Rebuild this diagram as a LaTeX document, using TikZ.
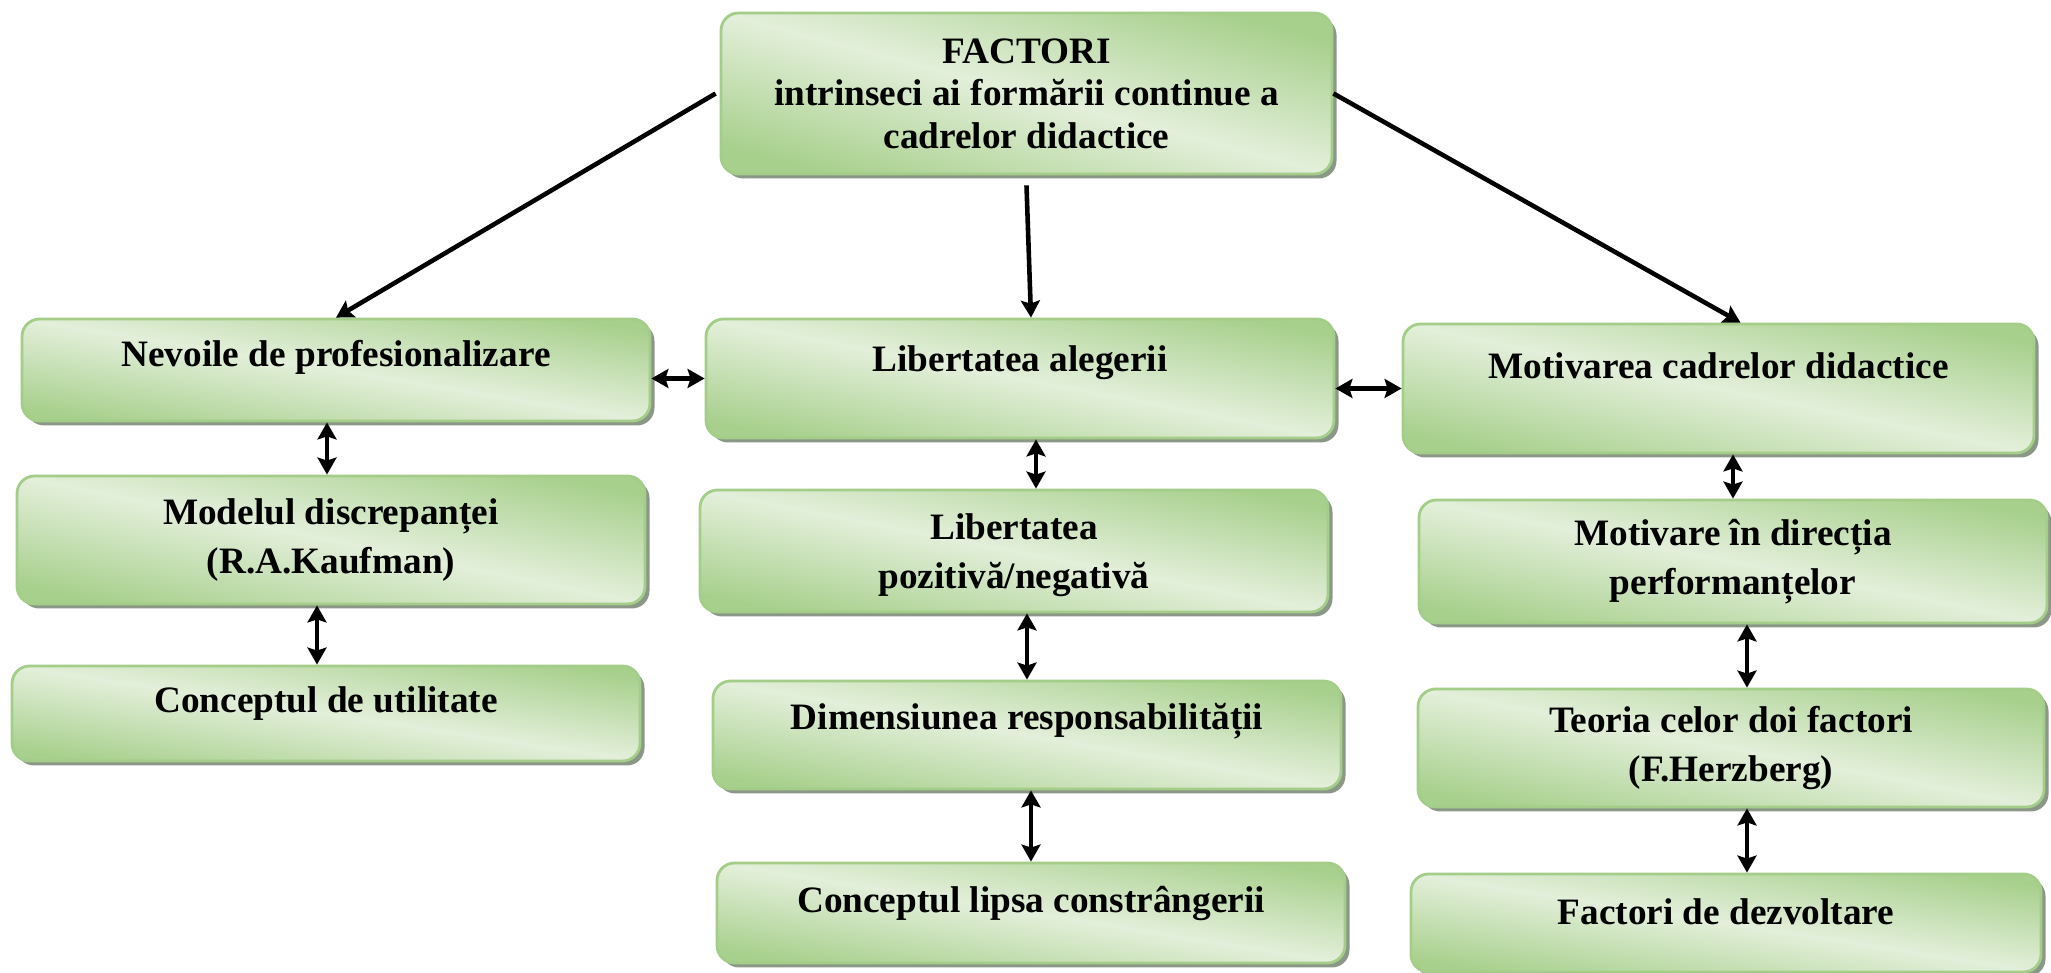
\documentclass[tikz,border=0pt]{standalone}
\usepackage{fontspec}
\setmainfont{Liberation Serif}
\usetikzlibrary{arrows.meta, positioning, calc, shadows}
\definecolor{leafdark}{HTML}{A8D08D}
\definecolor{leaflight}{HTML}{E3EFDA}
\definecolor{leafline}{HTML}{A3CD88}
\definecolor{leafshade}{HTML}{8C9887}
\newcommand{\factorbox}[7]{%
  \pgfmathsetmacro\leafangle{-atan(#5/#4)}%
  \node[draw=leafline, line width=0.8pt, rounded corners=5pt,
        top color=leafdark, bottom color=leafdark, middle color=leaflight,
        shading angle=\leafangle,
        drop shadow={shadow xshift=0.045cm, shadow yshift=-0.045cm,
                     fill=leafshade, opacity=1},
        minimum width=#4cm, minimum height=#5cm] (#1) at (#2,#3) {};
  \node[align=center, font=\bfseries\fontsize{10.6}{14}\selectfont]
        (#1-t) at ([yshift=#6cm]#1.center) {#7};}
\tikzset{
  oneway/.style={-{Stealth[length=1.7mm, width=1.9mm, inset=0.3mm]}, line width=1.3pt},
  twoway/.style={{Stealth[length=1.7mm, width=1.9mm, inset=0.3mm]}-{Stealth[length=1.7mm, width=1.9mm, inset=0.3mm]}, line width=1.3pt}
}
\begin{document}
\begin{tikzpicture}
  \useasboundingbox (0,0) rectangle (20.51,9.73);
  \factorbox{top}{10.265}{8.795}{6.11}{1.61}{0}{FACTORI\\[-1.9pt]
    intrinseci ai formării continue a\\[-1.9pt] cadrelor didactice}
  \factorbox{nev}{3.36}{6.03}{6.28}{1.02}{0.13}{Nevoile de profesionalizare}
  \factorbox{lib}{10.20}{5.945}{6.28}{1.19}{0.16}{Libertatea alegerii}
  \factorbox{mot}{17.185}{5.845}{6.31}{1.29}{0.23}{Motivarea cadrelor didactice}
  \factorbox{mod}{3.31}{4.33}{6.28}{1.28}{0}{Modelul discrepanței\\(R.A.Kaufman)}
  \factorbox{poz}{10.14}{4.22}{6.28}{1.22}{-0.04}{Libertatea\\pozitivă/negativă}
  \factorbox{dir}{17.33}{4.115}{6.28}{1.23}{0}{Motivare în direcția\\performanțelor}
  \factorbox{util}{3.26}{2.595}{6.28}{0.95}{0.10}{Conceptul de utilitate}
  \factorbox{dim}{10.27}{2.38}{6.28}{1.08}{0.14}{Dimensiunea responsabilității}
  \factorbox{teo}{17.31}{2.25}{6.26}{1.18}{0}{Teoria celor doi factori\\(F.Herzberg)}
  \factorbox{lip}{10.31}{0.60}{6.28}{1.00}{0.10}{Conceptul lipsa constrângerii}
  \factorbox{fac}{17.26}{0.50}{6.30}{0.98}{0.11}{Factori de dezvoltare}

  % from the top box
  \draw[oneway] ([xshift=-0.04cm]top.west) -- (nev.north);
  \draw[oneway] ([yshift=-0.1cm]top.south) -- ([xshift=0.11cm]lib.north);
  \draw[oneway] (top.east) -- ([xshift=0.22cm]mot.north);

  % between the columns
  \draw[twoway] (lib.west -| nev.east) -- (lib.west);
  \draw[twoway] (mot.west -| lib.east) -- (mot.west);

  % down each column
  \draw[twoway] ([xshift=-0.04cm]mod.north |- nev.south) -- ([xshift=-0.04cm]mod.north);
  \draw[twoway] ([xshift=-0.09cm]util.north |- mod.south) -- ([xshift=-0.09cm]util.north);
  \draw[twoway] ([xshift=0.16cm]lib.south) -- ([xshift=0.16cm]lib.south |- poz.north);
  \draw[twoway] (dim.north |- poz.south) -- (dim.north);
  \draw[twoway] (lip.north |- dim.south) -- (lip.north);
  \draw[twoway] (dir.north |- mot.south) -- (dir.north);
  \draw[twoway] ([xshift=0.14cm]dir.south) -- ([xshift=0.14cm]dir.south |- teo.north);
  \draw[twoway] ([xshift=0.16cm]teo.south) -- ([xshift=0.16cm]teo.south |- fac.north);
\end{tikzpicture}
\end{document}
